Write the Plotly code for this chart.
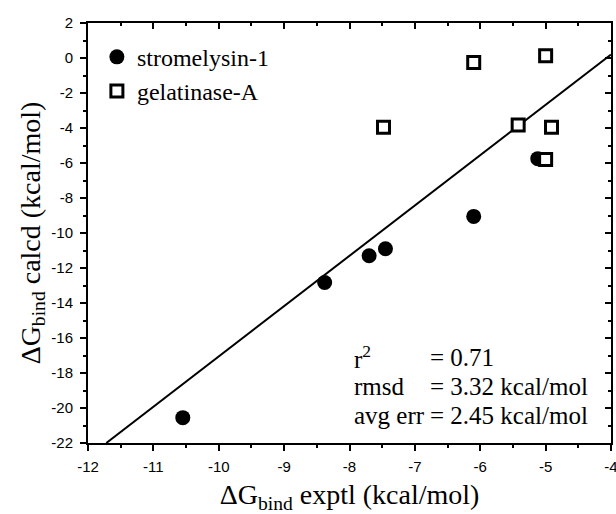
import plotly.graph_objects as go

# Data
strom_x = [-10.55, -8.38, -7.70, -7.45, -6.10, -5.12]
strom_y = [-20.55, -12.83, -11.30, -10.90, -9.05, -5.75]

gel_x = [-7.48, -6.10, -5.00, -5.42, -4.91, -5.00]
gel_y = [-3.95, -0.25, 0.13, -3.83, -3.96, -5.80]

fit_x = [-11.72, -4.0]
fit_y = [-22.0, 0.2]

x_ticks = [-12, -11, -10, -9, -8, -7, -6, -5, -4]
x_ticklabels = ["-12", "-11", "-10", "-9", "-8", "-7", "-6", "-5", "-4"]
y_ticks = [2, 0, -2, -4, -6, -8, -10, -12, -14, -16, -18, -20, -22]
y_ticklabels = ["2", "0", "-2", "-4", "-6", "-8", "-10", "-12", "-14", "-16", "-18", "-20", "-22"]

stat_labels = ["r<sup>2</sup>", "rmsd", "avg err"]
stat_values = ["= 0.71", "= 3.32 kcal/mol", "= 2.45 kcal/mol"]
stat_y = [-17.1, -18.78, -20.4]

x_range = [-12, -4]
y_range = [-22, 2]

SERIF = "Liberation Serif, Times New Roman, serif"
SANS = "Liberation Sans, Arial, sans-serif"

fig = go.Figure()

fig.add_trace(go.Scatter(
    x=fit_x, y=fit_y, mode="lines",
    line=dict(color="black", width=2),
    showlegend=False, hoverinfo="skip"))

fig.add_trace(go.Scatter(
    x=strom_x, y=strom_y, mode="markers", name="stromelysin-1",
    marker=dict(symbol="circle", size=15, color="black",
                line=dict(color="black", width=0))))

fig.add_trace(go.Scatter(
    x=gel_x, y=gel_y, mode="markers", name="gelatinase-A",
    marker=dict(symbol="square", size=12, color="white",
                line=dict(color="black", width=3))))

# invisible trace to activate mirror axes (top/right with inward ticks)
fig.add_trace(go.Scatter(x=fit_x, y=fit_y, xaxis="x2", yaxis="y2",
                         mode="lines", line=dict(width=0), opacity=0,
                         showlegend=False, hoverinfo="skip"))

for lab, val, yy in zip(stat_labels, stat_values, stat_y):
    fig.add_annotation(x=-7.96, y=yy, xref="x", yref="y", text=lab,
                       showarrow=False, xanchor="left", yanchor="middle",
                       font=dict(family=SERIF, size=25, color="black"))
    fig.add_annotation(x=-6.80, y=yy, xref="x", yref="y", text=val,
                       showarrow=False, xanchor="left", yanchor="middle",
                       font=dict(family=SERIF, size=25, color="black"))

axis_common = dict(showgrid=False, zeroline=False, showline=True,
                   linecolor="black", linewidth=2, ticklen=6, tickwidth=1.5,
                   tickcolor="black")

fig.update_layout(
    width=616, height=514,
    margin=dict(l=88, r=5, t=23, b=71, autoexpand=False),
    paper_bgcolor="white", plot_bgcolor="white",
    showlegend=True,
    legend=dict(x=0.017, y=0.972, xanchor="left", yanchor="top",
                bgcolor="rgba(0,0,0,0)", borderwidth=0,
                font=dict(family=SERIF, size=24, color="black"),
                itemwidth=30, tracegroupgap=0),
    xaxis=dict(range=x_range, tickmode="array", tickvals=x_ticks, ticktext=x_ticklabels,
               ticks="outside", ticklabeloverflow="allow", ticklabelstandoff=3,
               tickfont=dict(family=SANS, size=15, color="black"),
               minor=dict(dtick=0.5, tick0=-12, ticklen=3, tickwidth=1.5, ticks="outside", tickcolor="black"),
               title=dict(text="ΔG<sub>bind</sub> exptl (kcal/mol)",
                          font=dict(family=SERIF, size=28, color="black"),
                          standoff=16),
               automargin=False, **axis_common),
    yaxis=dict(range=y_range, tickmode="array", tickvals=y_ticks, ticktext=y_ticklabels,
               ticks="outside", ticklabelstandoff=4,
               tickfont=dict(family=SANS, size=15, color="black"),
               minor=dict(dtick=1, tick0=-22, ticklen=3, tickwidth=1.5, ticks="outside", tickcolor="black"),
               title=dict(text="ΔG<sub>bind</sub> calcd (kcal/mol)",
                          font=dict(family=SERIF, size=28, color="black"),
                          standoff=3),
               automargin=False, **axis_common),
    xaxis2=dict(range=x_range, dtick=1, tick0=-12, ticks="inside", side="top",
                overlaying="x", showticklabels=False,
                minor=dict(dtick=0.5, tick0=-12, ticklen=3, tickwidth=1.5, ticks="inside", tickcolor="black"),
                **axis_common),
    yaxis2=dict(range=y_range, dtick=2, tick0=-22, ticks="inside", side="right",
                overlaying="y", showticklabels=False,
                minor=dict(dtick=1, tick0=-22, ticklen=3, tickwidth=1.5, ticks="inside", tickcolor="black"),
                **axis_common),
)

fig.write_html("out.html", config={"displayModeBar": False},
               post_script="document.body.style.margin='0';document.body.style.overflow='hidden';")
